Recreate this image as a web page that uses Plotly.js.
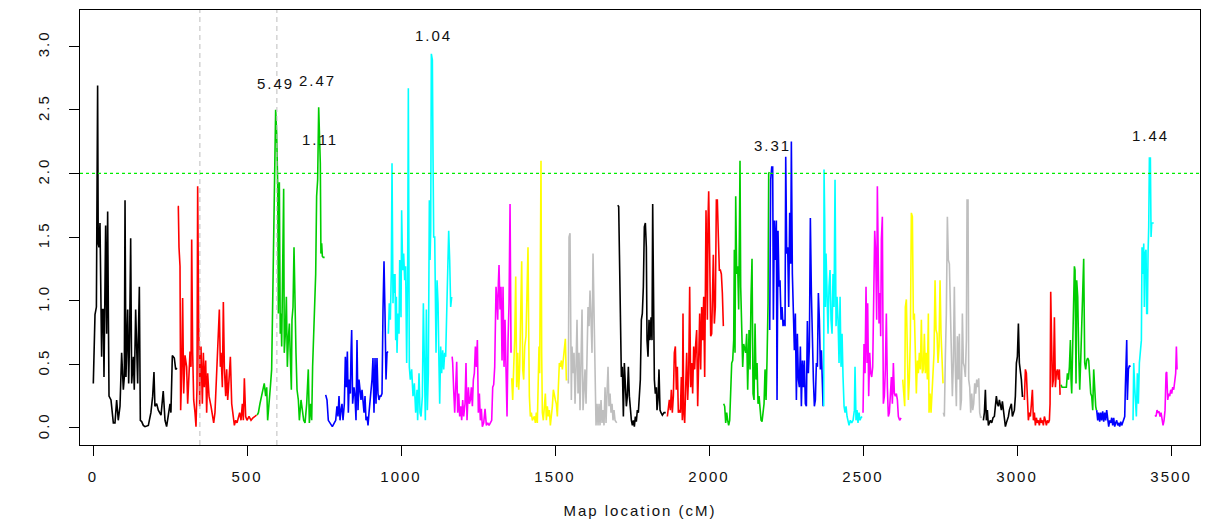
<!DOCTYPE html>
<html><head><meta charset="utf-8">
<script src="https://cdn.plot.ly/plotly-3.0.1.min.js"></script>
<style>
html,body{margin:0;padding:0;background:#fff;}
#chart{width:1205px;height:519px;}
text{letter-spacing:2px;}
</style></head><body><div id="chart"></div>
<script>
const chr01Pos=[1,6.5,11,13,15,17,19.5,22.7,26,28,30,33.5,35.7,39,41,44.4,47.6,49.8,52,58.4,62.8,66,71.4,76.8,82,87.7,93,98.5,101.7,104,107,112.6,115.8,119,122.3,125.6,131,134,138.5,141.8,145,147,150.5,153.7,158,163.4,168.8,179.7,188,193.7,198,201,206.7,212,220.8,228,233.8,239,244.6,250,253,257.6,264,268.4,272.8];
const chr01Lod=[0.35,0.89,0.95,1.5,2.69,1.45,1.42,1.61,0.98,0.56,0.93,0.93,0.40,1.06,1.59,0.74,1.70,0.93,0.25,0.22,0.09,0.04,0.04,0.22,0.06,0.17,0.59,0.30,0.40,1.79,0.40,0.93,0.35,0.74,1.49,0.35,0.56,0.30,0.93,0.69,0.35,0.69,1.11,0.06,0.05,0.02,0.01,0.02,0.12,0.25,0.44,0.17,0.19,0.14,0.10,0.29,0.06,0.01,0.12,0.19,0.12,0.57,0.55,0.46,0.47];
const chr02Pos=[275,277,279.2,282.5,284.6,287.9,291,294.4,298.7,304,307.4,311.7,315,318.2,320.4,323.6,326.9,331.2,334.4,337.7,339.8,343,346.3,347.4,350.7,355,358.3,361.5,365.8,369,372.3,376.7,383.2,387.5,391.8,396,399.4,402.6,407,410.2,413.5,415.6,420,423.2,426.4,430.8,434,437.3,441.6,446,450.3,454.6,459,463.2,467.6,471.9,476.2,480.6,484.9,488.1,491.4,495.7,500,506.5,513,519.5,526,531];
const chr02Lod=[1.74,1.74,1.42,1.27,0.14,0.43,1.02,0.27,0.57,0.48,0.19,0.48,0.60,0.48,1.48,0.59,0.22,0.12,0.01,0.32,1.90,0.85,0.17,0.38,0.64,0.19,0.59,0.32,0.53,0.12,0.43,0.25,0.17,0.09,0.04,0.12,0.32,0.59,0.80,0.93,0.48,0.59,0.32,0.99,0.48,0.25,0.46,0.22,0.38,0.56,0.19,0.09,0.02,0.06,0.04,0.08,0.12,0.06,0.19,0.06,0.39,0.09,0.06,0.09,0.06,0.08,0.09,0.10];
const chr03Pos=[533,537,542,547.7,553,556,560.6,564,567,571.5,575.8,580,583.4,585.5,587.7,591,593,596.4,599.6,601.8,605,608,610.4,612.6,615.8,619,621,624.5,627.8,631,634,637.5,640.7,644,646,649.4,652.6,656,659,662.4,666.7,670,675.4,679.7,684,688.4,693.8,699,702.4,706.7,710,713,716.4,719.7,723,726,729.4,732.7,736,738,740,742.4,744.6,747.8,752];
const chr03Lod=[0.10,0.12,0.19,0.25,0.32,0.35,0.25,0.32,0.06,0.17,0.32,0.46,0.93,1.24,1.79,2.00,2.50,2.31,1.92,0.90,1.93,0.74,0.90,0.64,1.16,1.88,0.59,0.74,1.03,0.48,0.69,0.82,0.56,0.30,0.85,0.95,1.42,0.85,0.59,0.30,0.22,0.06,0.22,0.14,0.06,0.04,0.19,0.46,0.04,0.19,0.06,0.48,0.69,0.98,1.21,1.82,1.95,2.52,2.10,2.08,1.37,1.45,1.35,1.34,1.34];
const chr04Pos=[755.4,759.7,764,769.5,777,783.5,788,792,795.4,798.7,802,805.2,808.4,811.7,816,819.3,822.5,825.8,829,832.2,835.5,837.7,839.8,843,847.4,850.6,853.9,857.1,860.4,863.6,866.9,870.1,873.4,876.6,879.9,883.1,886.4,889.6,892.9,896.1,899.3,902.6,905.8,909,912.3,915.6,918.8,922,925.3,928.6,931.8,935,938.3,941.6,944.8,948,951.3,954.5,957.8];
const chr04Lod=[0.26,0.22,0.06,0.04,0.01,0.04,0.06,0.17,0.09,0.25,0.06,0.14,0.19,0.06,0.19,0.56,0.32,0.60,0.12,0.38,0.27,0.59,0.77,0.19,0.32,0.25,0.06,0.69,0.14,0.38,0.32,0.22,0.30,0.19,0.12,0.25,0.06,0.09,0.02,0.12,0.19,0.27,0.38,0.55,0.12,0.55,0.19,0.55,0.27,0.22,0.25,0.25,0.27,0.93,1.31,0.90,0.38,0.59,0.60];
const chr05Pos=[958.9,962,965.4,968.6,970.8,974,976.2,978.4,980.5,982.7,984.9,987,990.3,993.5,995.7,997.8,1000,1002,1005.4,1008.6,1011.9,1015,1018.4,1021.6,1023.8,1027,1030.3,1034.6,1039,1043.3,1047.6,1052,1054,1058.5,1061.7,1065,1069.3,1072.6,1075.8,1079,1082.3,1085.5,1088.8,1092,1094.2,1096.4,1098.5,1101.8,1104,1106.1,1109.4,1111.5,1113.7,1117,1120.2,1123.4,1125.6,1128.8,1132,1135.3,1138.6,1141.8,1145,1148.3,1151.6,1154.8,1158,1161.3,1164.5];
const chr05Lod=[0.74,0.98,0.85,1.24,2.08,0.98,1.21,1.06,1.21,0.69,1.03,0.59,0.90,0.74,1.32,1.11,0.87,1.71,1.24,1.37,1.16,1.27,0.51,1.24,2.67,0.48,0.38,0.46,0.25,0.35,0.12,0.30,0.06,0.43,0.12,0.09,0.25,0.98,0.43,0.06,0.93,0.14,0.43,1.79,1.32,1.55,2.94,2.89,2.10,1.50,1.50,0.98,0.59,1.16,0.98,0.48,0.19,0.64,0.43,0.61,0.46,0.59,0.56,0.90,1.27,1.55,1.32,0.95,1.03];
const chr06Pos=[1166,1167.8,1171,1174.3,1177.5,1180.8,1184,1187.3,1190.5,1193.8,1197,1200.3,1203.5,1207.8,1211,1214.3,1218.7,1221.9,1225.2,1228.4,1231.7,1234.9,1238.1,1241.4,1244.6,1247.9,1251.1,1254.4,1257.6,1260.9,1264.1,1268.5,1272.8,1277.1,1281.4,1285.8,1290.1,1294.4,1297.7,1300.9,1304.2,1306.3,1308.5,1311.8,1313.9,1316.1,1318.2,1321.5,1324.7,1328,1331.2,1334.5,1337.7,1341,1344.2,1347.5,1350.7,1354,1357.2];
const chr06Lod=[0.56,0.51,0.30,0.12,0.32,0.52,0.12,0.27,0.09,0.17,0.06,0.22,0.09,0.19,0.51,0.06,0.32,0.19,0.22,0.32,0.17,0.38,0.43,0.64,0.48,0.69,0.12,0.27,0.06,0.15,0.01,0.04,0.15,0.02,0.04,0.02,0.04,0.06,0.32,0.34,0.48,0.69,1.11,0.98,0.85,1.14,1.28,0.93,1.11,0.53,1.11,0.48,0.85,0.46,0.09,0.69,0.98,1.76,0.59];
const chr07Pos=[1359.4,1362.6,1365.9,1369.1,1372.4,1375.6,1378.9,1382.1,1385.3,1388.6,1391.8,1395.1,1398.3,1401.6,1405.8,1409,1412.3,1414.5,1416.7,1419.9,1423.2,1426.4,1429.7,1432.9,1436.2,1439.4,1442.6,1444.8,1448,1450.2,1452.4,1454.5,1456.7,1458.9,1462.1,1465.4,1468.6,1471.9,1475.1,1478.4,1481.6,1484.9,1488.1,1491.3,1494.6,1497.8,1501.1,1504.3,1507.6,1510.8,1514.1,1517.3,1520.6,1523.8,1527.1,1530.3,1533.6,1536.8,1540.1];
const chr07Lod=[0.39,0.22,0.48,0.69,1.19,0.32,0.59,0.30,0.48,0.90,1.31,0.46,0.38,0.64,0.72,1.06,1.42,0.77,0.25,0.09,0.12,0.06,0.08,0.09,0.04,0.12,0.04,0.32,0.64,0.43,2.10,2.10,0.59,0.12,0.06,0.14,0.27,0.06,0.17,0.09,0.14,0.02,0.09,0.17,0.30,0.25,0.22,0.19,0.09,0.32,0.51,0.48,0.53,0.46,0.56,0.64,0.70,0.38,0.38];
const chr08Pos=[1543.3,1545.5,1548.7,1550.9,1553,1555.2,1558.5,1561.7,1565,1568.2,1571.4,1574.7,1577.9,1581.2,1584.4,1587.7,1590.9,1594.2,1597.4,1600.7,1603.9,1607.2,1610.4,1613.6,1616.9,1620.1,1623.4,1626.6,1629.9,1633.1,1636.4,1639.6,1642.9,1646.1,1649.4,1652.6,1655.9,1659.1,1662.4,1665.6,1668.8,1672.1,1675.3,1678.6,1681.8,1685.1,1688.3,1691.6,1694.8,1700.2];
const chr08Lod=[0.35,1.50,1.53,1.01,0.22,0.64,0.43,0.59,0.19,0.48,0.85,0.27,0.59,0.14,0.43,0.93,0.14,0.32,0.46,0.19,0.64,0.95,0.80,1.08,0.85,0.59,1.37,0.80,0.32,0.02,0.19,0.02,0.19,0.02,0.22,0.04,0.14,0.02,0.32,0.04,0.27,0.48,0.17,0.27,0.12,0.19,0.06,0.14,0.06,0.04];
const chr09Pos=[1703.5,1706.7,1710,1713.2,1715.4,1718.6,1721.9,1725.1,1728.4,1731.6,1734.9,1738.1,1741.4,1744.6,1747.9,1751.1,1754.3,1757.6,1760.8,1764,1767.3,1770.5,1773.8,1777,1780.3,1783.5,1786.8,1790,1793.3,1796.5,1798.7,1801.9,1805.2,1808.4,1811.7,1814.9,1817.1,1820.3,1822.5,1825.7,1829,1831.1,1834.4,1837.6,1840.9,1844.1,1848.5,1853.9,1859.3];
const chr09Lod=[1.75,1.74,1.24,0.82,0.40,0.48,0.09,0.51,0.25,0.17,0.25,0.48,0.25,0.12,0.06,0.02,0.06,0.01,0.09,0.05,0.14,0.12,0.32,0.38,0.85,0.90,1.11,1.58,1.61,1.42,0.69,0.56,0.85,0.69,0.87,0.69,1.76,0.95,0.38,0.27,0.32,0.14,0.22,0.46,0.14,0.12,0.10,0.12,0.12];
const chr10Pos=[1864.7,1867.9,1871.2,1874.4,1877.7,1880.9,1884.2,1887.4,1890.7,1893.9,1897.2,1900.4,1903.6,1906.9,1910.1,1913.4,1915.5,1917.7,1921,1924.2,1927.5,1930.7,1934,1937.2,1940.4,1943.7,1946.9,1950.2,1953.4,1956.7,1959.9,1963.2,1966.4,1969.7,1972.9,1976.2,1979.4,1982.7,1985.9,1988.1,1990.2,1992.4,1994.6,1996.7,1998.9,2002.1,2005.4,2008.6,2011.9,2014,2017.3,2020.5,2023.8,2027,2030.3,2033.5,2036.8,2040,2043.3,2046.5];
const chr10Lod=[0.09,0.17,0.22,0.14,0.30,0.12,0.25,0.59,0.64,0.30,0.48,0.12,0.14,0.12,0.40,0.06,0.90,0.14,0.04,0.32,0.59,0.22,0.43,1.11,0.32,0.51,0.27,0.64,0.46,0.66,0.77,0.17,0.48,0.90,0.46,0.95,0.69,1.03,0.40,1.50,1.71,1.29,0.85,1.63,1.86,1.37,0.72,0.74,1.11,1.36,0.82,0.95,1.79,1.79,1.50,1.24,1.24,1.21,1.06,0.80];
const chr11Pos=[2047.6,2050.8,2054.1,2057.3,2060.6,2063.8,2067.1,2070.3,2073.6,2076.8,2080.1,2082.2,2084.4,2086.6,2089.8,2093.1,2096.3,2098.5,2100.6,2102.8,2106,2109.3,2112.5,2115.8,2119,2122.3,2125.5,2129.9,2133.1,2136.4,2139.6,2142.9,2146.1,2149.4,2152.6,2155.9,2159.1,2162.4,2165.6,2168.9,2172.1,2175.3,2178.6,2181.9,2185.1,2188.3,2191.6,2193.7,2195.9];
const chr11Lod=[0.19,0.17,0.04,0.12,0.06,0.02,0.06,0.30,0.51,0.53,0.69,1.40,0.59,1.82,1.21,1.27,0.93,1.50,2.10,1.11,0.82,0.48,0.66,0.61,0.59,0.74,0.30,0.77,0.46,1.03,1.33,0.27,0.22,0.82,0.38,0.51,0.19,0.25,0.14,0.06,0.05,0.12,0.19,0.46,0.22,0.53,0.98,2.00,2.01];
const chr12Pos=[2197,2200.2,2203.5,2206.7,2208.9,2212.1,2215.4,2218.6,2220.8,2224,2227.3,2230.5,2233.8,2237,2240.3,2243.5,2246.8,2249,2252.2,2255.4,2258.7,2261.9,2265.2,2267.3,2270.6,2273.8,2277.1,2280.3,2283.6,2286.8,2290.1,2293.3,2296.6,2299.8,2303.1,2306.3,2309.5,2312.8,2316.1,2319.3,2322.5,2325.8,2329,2332.3,2335.5,2338.8,2342,2345.3,2348.5,2351.8,2355,2358.3,2361.5,2364.8,2368,2370.2];
const chr12Lod=[0.77,1.95,2.05,2.05,0.85,1.63,1.32,1.63,0.22,1.55,1.11,1.16,0.85,0.95,0.80,0.85,0.80,2.13,1.37,1.42,0.95,1.69,1.29,2.25,1.21,0.85,0.61,0.90,0.22,0.74,0.38,0.32,0.64,0.17,0.53,0.32,0.53,0.19,0.17,0.84,0.43,0.64,1.65,1.06,0.59,0.38,0.17,0.22,0.51,0.48,1.06,0.85,0.46,0.61,0.35,0.17];
const chr13Pos=[2372.3,2373.4,2375.6,2377.7,2379.9,2383.2,2386.4,2389.6,2392.9,2396.1,2399.4,2402.6,2405.9,2409.1,2412.4,2415.6,2418.9,2422.1,2425.4,2428.6,2431.9,2435.1,2438.4,2441.6,2444.8,2448.1,2451.3,2454.6,2458.9,2463.2,2467.6,2471.9,2474,2477.2,2480.5,2483.7,2487,2490.2,2493.5,2496.7];
const chr13Lod=[0.17,2.03,1.63,0.95,1.37,1.01,0.74,1.11,1.24,0.85,0.74,1.21,0.95,1.95,0.80,1.03,0.85,0.51,1.03,0.48,0.74,0.40,0.17,0.12,0.17,0.09,0.06,0.02,0.06,0.04,0.06,0.14,0.48,0.06,0.14,0.04,0.12,0.06,0.08,0.09];
const chr14Pos=[2500,2503.2,2506.5,2509.7,2513,2515.1,2518.4,2521.6,2524.9,2528.1,2531.4,2534.6,2537.9,2541.1,2544.3,2546.5,2548.7,2551.9,2555.2,2557.3,2559.5,2562.7,2566,2569.2,2572.5,2575.7,2579,2582.2,2585.5,2588.7,2592,2595.2,2598.5,2601.7,2605,2608.2,2611.5,2614.7,2619,2623.4];
const chr14Lod=[0.12,0.66,0.43,1.11,0.51,0.98,0.25,0.59,0.43,0.40,0.48,0.90,1.55,1.37,0.85,1.90,1.16,0.82,1.06,0.72,1.48,1.66,0.19,0.25,0.46,0.90,0.32,0.09,0.12,0.27,0.40,0.19,0.51,0.27,0.25,0.27,0.22,0.09,0.06,0.08];
const chr15Pos=[2628.8,2632,2635.3,2637.4,2640.7,2643.9,2647.2,2650.4,2653.7,2656.9,2660.2,2663.4,2666.6,2669.9,2673.1,2676.4,2679.6,2682.9,2686.1,2689.4,2692.6,2695.9,2699.1,2702.4,2705.6,2708.9,2712.1,2714.3,2717.5,2720.8,2724,2727.3,2730.5,2733.8,2737,2740.2,2743.5,2746.7,2750,2753.2,2756.5,2759.7];
const chr15Lod=[0.38,0.22,0.17,0.95,1.01,0.59,0.22,0.38,0.72,1.69,1.66,0.85,0.90,0.59,0.27,0.53,0.43,0.59,0.46,0.85,0.43,0.46,0.74,0.43,0.59,0.38,0.90,0.12,0.27,0.12,0.27,0.43,0.59,1.16,0.77,0.74,0.51,0.64,1.16,0.74,0.59,0.35];
const chr16Pos=[2760.8,2764,2767.3,2770.5,2773.8,2777,2780.3,2783.5,2786.8,2790,2793.3,2796.5,2799.8,2803,2806.3,2809.5,2812.8,2816,2819.3,2822.5,2825.8,2829,2832.2,2835.5,2837.7,2840.9,2843.1,2846.4,2849.6,2852.9,2856.1,2859.3,2862.6,2865.8,2869.1,2872.3,2875.6,2878.8,2882.1,2885.3];
const chr16Lod=[0.12,0.09,0.56,0.90,1.66,1.32,1.29,0.85,0.46,0.25,0.53,1.11,0.46,0.17,0.72,0.38,0.74,0.14,0.22,0.90,0.51,0.48,0.40,0.69,1.79,1.79,0.38,0.32,0.12,0.27,0.14,0.19,0.35,0.27,0.38,0.32,0.39,0.12,0.08,0.09];
const chr17Pos=[2890.7,2894,2897.2,2900.5,2903.7,2907,2910.2,2913.5,2917.8,2922.1,2926.4,2929.7,2932.9,2936.2,2939.4,2942.7,2945.9,2949.2,2952.4,2955.7,2958.9,2962.2,2965.4,2968.7,2971.9,2975.1,2978.4,2981.6,2984.9,2988.1,2991.4,2994.6,2997.9,3001.1,3004.4,3007.6,3010.9,3014.1,3017.4,3020.6];
const chr17Lod=[0.06,0.12,0.30,0.06,0.14,0.02,0.04,0.06,0.04,0.08,0.09,0.19,0.25,0.19,0.17,0.22,0.19,0.14,0.21,0.14,0.06,0.01,0.04,0.06,0.09,0.14,0.17,0.19,0.09,0.12,0.14,0.25,0.51,0.56,0.82,0.51,0.46,0.38,0.25,0.25];
const chr18Pos=[3023.8,3027.1,3030.3,3033.6,3036.8,3040.1,3043.3,3046.6,3049.8,3053.1,3056.3,3059.6,3062.8,3066,3069.3,3072.5,3075.8,3079,3082.3,3085.5,3088.8,3092,3095.3,3098.5,3101.8,3105,3107.2,3109.3,3111.5,3114.8,3118,3121.3,3124.5,3127.7,3131,3134.3,3137.5,3139.7];
const chr18Lod=[0.22,0.46,0.43,0.14,0.06,0.12,0.09,0.19,0.30,0.06,0.12,0.02,0.08,0.04,0.06,0.02,0.08,0.04,0.06,0.02,0.09,0.06,0.02,0.06,0.04,0.06,0.19,1.07,0.59,0.32,0.38,0.87,0.32,0.43,0.46,0.38,0.46,0.26];
const chr19Pos=[3142.9,3146.1,3150.5,3155.9,3160.2,3163.5,3166.7,3170,3173.2,3175.4,3177.5,3179.7,3181.9,3184,3186.2,3188.3,3191.5,3193.7,3197,3200.2,3203.5,3206.7,3210,3213.2,3216.4,3219.7,3222.9,3226.2,3229.4,3232.7,3235.9,3239.2,3242.4,3245.7,3248.9,3252.2,3255.4,3257.6];
const chr19Lod=[0.34,0.32,0.32,0.32,0.32,0.43,0.38,0.48,0.69,0.38,0.27,0.53,0.80,0.98,1.27,1.24,0.35,1.16,1.03,0.59,0.30,0.53,0.80,0.95,1.33,0.51,0.46,0.53,0.55,0.53,0.43,0.27,0.25,0.14,0.46,0.25,0.17,0.14];
const chr20Pos=[3258.6,3261.9,3265.1,3268.4,3271.6,3274.9,3278.1,3281.4,3284.6,3287.9,3291.1,3294.4,3297.6,3300.9,3304.1,3307.4,3310.6,3313.8,3317.1,3320.3,3323.6,3326.8,3330.1,3333.3,3336.6,3339.8,3343.1,3346.3,3349.6,3351.7,3353.9,3356.1,3358.2,3361.5,3364.7,3368];
const chr20Lod=[0.14,0.06,0.12,0.05,0.12,0.06,0.13,0.05,0.12,0.06,0.14,0.04,0.01,0.06,0.04,0.08,0.02,0.08,0.01,0.04,0.06,0.02,0.04,0.01,0.05,0.02,0.04,0.06,0.09,0.32,0.64,0.69,0.22,0.46,0.49,0.48];
const chr21Pos=[3376.6,3378.8,3382,3385.3,3387.4,3390.7,3393.9,3397.2,3400.4,3403.7,3405.8,3409.1,3411.3,3413.4,3415.6,3418.8,3421,3423.2,3425.3,3427.5,3429.7,3432.9,3435.1,3437.2,3440.5,3443.7];
const chr21Lod=[0.06,0.51,0.32,0.22,0.09,0.43,0.19,0.51,0.61,0.69,1.42,1.21,1.45,0.95,1.37,1.40,0.90,0.90,1.37,1.58,2.12,2.12,1.50,1.61,1.61,1.61];
const chr22Pos=[3448,3451.3,3454.5,3457.8,3461,3464.3,3467.5,3470.8,3474,3477.3,3480.5,3483.8,3485.9,3489.2,3492.4,3495.7,3498.9,3502.2,3505.4,3508.7,3511.9,3515.1,3517.3,3519.5];
const chr22Lod=[0.10,0.09,0.14,0.12,0.13,0.09,0.12,0.06,0.02,0.06,0.14,0.43,0.44,0.22,0.27,0.25,0.30,0.27,0.32,0.30,0.38,0.43,0.64,0.46];

const chrColors=['#000000','#FF0000','#00CD00','#0000FF','#00FFFF','#FF00FF','#FFFF00','#BEBEBE'];
const xTickVals=[0,500,1000,1500,2000,2500,3000,3500];
const yTickVals=[0,0.5,1,1.5,2,2.5,3];
const yTickText=['0.0','0.5','1.0','1.5','2.0','2.5','3.0'];
const threshold=2.0;
const markerLines=[347,597];
const annX=[591,730,737,1104,2205,3432];
const annY=[2.71,2.73,2.27,3.08,2.22,2.30];
const annText=['5.49','2.47','1.11','1.04','3.31','1.44'];

const chromosomes=[
 [chr01Pos,chr01Lod],[chr02Pos,chr02Lod],[chr03Pos,chr03Lod],[chr04Pos,chr04Lod],
 [chr05Pos,chr05Lod],[chr06Pos,chr06Lod],[chr07Pos,chr07Lod],[chr08Pos,chr08Lod],
 [chr09Pos,chr09Lod],[chr10Pos,chr10Lod],[chr11Pos,chr11Lod],[chr12Pos,chr12Lod],
 [chr13Pos,chr13Lod],[chr14Pos,chr14Lod],[chr15Pos,chr15Lod],[chr16Pos,chr16Lod],
 [chr17Pos,chr17Lod],[chr18Pos,chr18Lod],[chr19Pos,chr19Lod],[chr20Pos,chr20Lod],
 [chr21Pos,chr21Lod],[chr22Pos,chr22Lod]
];

const traces=chromosomes.map((c,i)=>({
  x:c[0], y:c[1], type:'scatter', mode:'lines',
  line:{color:chrColors[i%8], width:1.6},
  hoverinfo:'skip', showlegend:false
}));

const shapes=markerLines.map(v=>({
  type:'line', xref:'x', yref:'paper', x0:v, x1:v, y0:0, y1:1,
  line:{color:'#BEBEBE', width:1, dash:'5px,4px'}
}));
shapes.push({type:'line', xref:'paper', yref:'y', x0:0, x1:1, y0:threshold, y1:threshold,
  line:{color:'#00EE00', width:1.2, dash:'3px,3px'}});

const annotations=annText.map((t,i)=>({
  x:annX[i], y:annY[i], xref:'x', yref:'y', text:t, showarrow:false,
  font:{size:15, color:'#111'}, xanchor:'center', yanchor:'middle'
}));

const axisCommon={
  ticks:'outside', ticklen:10, tickwidth:1, tickcolor:'#000',
  showline:true, linecolor:'#000', linewidth:1, mirror:true,
  showgrid:false, zeroline:false
};

const layout={
  width:1205, height:519,
  margin:{l:80, r:5, t:10, b:74},
  paper_bgcolor:'#fff', plot_bgcolor:'#fff',
  font:{family:'"Liberation Sans", Arial, sans-serif', size:15, color:'#111'},
  xaxis:Object.assign({}, axisCommon, {
    range:[-42.2,3594], tickmode:'array', tickvals:xTickVals,
    ticklabelstandoff:8,
    title:{text:'Map location (cM)', standoff:22, font:{size:15}}
  }),
  yaxis:Object.assign({}, axisCommon, {
    range:[-0.134,3.284], tickmode:'array', tickvals:yTickVals, ticktext:yTickText,
    tickangle:-90, ticklabelstandoff:14
  }),
  shapes:shapes,
  annotations:annotations
};

Plotly.newPlot('chart', traces, layout, {displayModeBar:false, staticPlot:true});
</script></body></html>
